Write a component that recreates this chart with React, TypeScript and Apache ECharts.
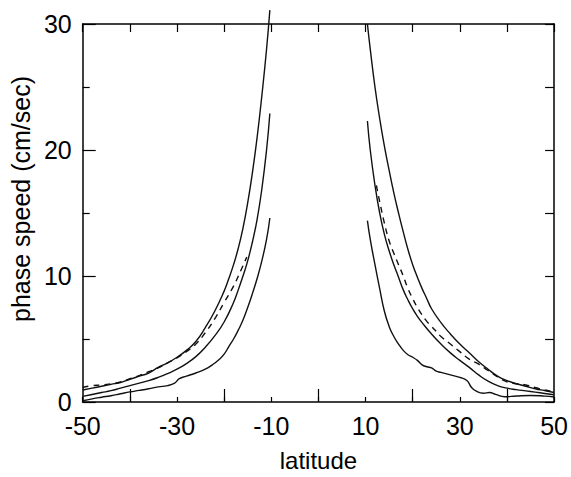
import React, { useEffect, useRef } from 'react';
import * as echarts from 'echarts';

// latitude (deg) vs phase speed (cm/sec)
const leftOuter: [number, number][] = [
  [-50, 0.95], [-48, 1.1], [-46, 1.25], [-44, 1.4], [-42, 1.55], [-40, 1.8], [-38, 2.05],
  [-36, 2.3], [-34, 2.75], [-32, 3.1], [-30, 3.55], [-28, 4.1], [-26, 4.8], [-24, 5.9],
  [-22, 7.2], [-20, 8.8], [-19, 9.8], [-18, 10.9], [-17, 12.2], [-16, 13.8], [-15, 15.8],
  [-14, 18.2], [-13, 21.0], [-12, 24.3], [-11, 28.0], [-10.3, 31.1],
];
const leftMiddle: [number, number][] = [
  [-50, 0.45], [-48, 0.6], [-46, 0.75], [-44, 0.9], [-42, 1.1], [-40, 1.3], [-38, 1.5],
  [-36, 1.7], [-34, 1.95], [-32, 2.25], [-30, 2.6], [-28, 3.05], [-26, 3.6], [-24, 4.35],
  [-22, 5.25], [-20, 6.35], [-18, 7.9], [-17, 8.9], [-16, 10.0], [-15, 11.2], [-14, 12.7],
  [-13, 14.5], [-12, 16.9], [-11, 20.0], [-10.3, 22.9],
];
const leftInner: [number, number][] = [
  [-50, 0.1], [-48, 0.25], [-46, 0.38], [-44, 0.5], [-42, 0.65], [-40, 0.8], [-38, 0.92],
  [-36, 1.05], [-34, 1.2], [-32, 1.3], [-30.5, 1.5], [-29.5, 1.85], [-28, 2.05], [-26, 2.3],
  [-24, 2.6], [-22.5, 2.95], [-21, 3.4], [-20, 3.8], [-19, 4.4], [-18, 5.0], [-17, 5.7],
  [-16, 6.5], [-15, 7.5], [-14, 8.6], [-13, 9.8], [-12, 11.2], [-11, 12.9], [-10.3, 14.6],
];
const leftDashed: [number, number][] = [
  [-50, 1.15], [-48, 1.3], [-46, 1.35], [-44, 1.45], [-42, 1.6], [-40, 1.85], [-38, 2.1],
  [-36, 2.4], [-34, 2.7], [-32, 3.1], [-30, 3.5], [-28, 4.0], [-26, 4.6], [-24, 5.5],
  [-22, 6.6], [-20, 7.9], [-18, 9.2], [-16.5, 10.4], [-15.2, 11.5],
];
const rightOuter: [number, number][] = [
  [10.4, 30.0], [11, 28.0], [12, 25.0], [13, 22.5], [14, 20.3], [15, 18.4], [16, 16.6],
  [17, 15.0], [18, 13.5], [19, 12.1], [20, 10.9], [21, 9.9], [22, 9.0], [23, 8.2], [24, 7.4],
  [26, 6.3], [28, 5.4], [30, 4.6], [32, 3.9], [34, 3.2], [36, 2.6], [38, 2.05], [40, 1.7],
  [42, 1.45], [44, 1.25], [46, 1.05], [48, 0.9], [50, 0.75],
];
const rightMiddle: [number, number][] = [
  [10.4, 22.3], [11, 20.0], [12, 17.2], [13, 15.0], [14, 13.3], [15, 12.0], [16, 10.9],
  [17, 9.9], [18, 8.9], [19, 8.1], [20, 7.4], [21, 6.8], [22, 6.3], [24, 5.4], [26, 4.6],
  [28, 3.9], [30, 3.3], [32, 2.75], [34, 2.15], [36, 1.65], [38, 1.3], [40, 1.1], [42, 0.98],
  [44, 0.88], [46, 0.78], [48, 0.68], [50, 0.58],
];
const rightInner: [number, number][] = [
  [10.4, 14.4], [11, 12.9], [12, 10.9], [13, 9.0], [14, 7.2], [15, 6.0], [16, 5.2], [17, 4.6],
  [18, 4.1], [19, 3.75], [20, 3.55], [21, 3.3], [22, 2.95], [23, 2.8], [24, 2.7], [25, 2.45],
  [26, 2.35], [28, 2.15], [30, 1.95], [31.5, 1.7], [32.5, 1.15], [33.5, 0.86], [35, 0.7],
  [36.3, 0.75], [37.6, 0.6], [39.5, 0.42], [42, 0.48], [45, 0.52], [48, 0.47], [50, 0.4],
];
const rightDashed: [number, number][] = [
  [12.3, 17.2], [13, 15.9], [14, 14.2], [15, 12.8], [16, 11.8], [17, 10.9], [18, 10.0],
  [19, 9.0], [20, 8.2], [21, 7.5], [22, 6.9], [23, 6.4], [24, 6.0], [25, 5.6], [26, 5.2],
  [28, 4.6], [30, 4.0], [32, 3.4], [34, 3.0], [36, 2.5], [38, 2.0], [40, 1.6], [42, 1.45],
  [44, 1.35], [46, 1.15], [48, 0.95], [50, 0.8],
];

const xTickLabels = ['-50', '-40', '-30', '-20', '-10', '0', '10', '20', '30', '40', '50'];

const FONT = "'Liberation Sans', Arial, Helvetica, sans-serif";

function line(data: [number, number][], dashed = false, clip = true) {
  return {
    type: 'line',
    xAxisIndex: 0,
    yAxisIndex: 0,
    data,
    showSymbol: false,
    symbol: 'none',
    smooth: 0.5,
    clip,
    silent: true,
    lineStyle: {
      color: '#111',
      width: 1.4,
      type: dashed ? [6, 5] : 'solid',
    },
  };
}

export default function App() {
  const ref = useRef<HTMLDivElement>(null);
  useEffect(() => {
    const chart = echarts.init(ref.current!, null, { renderer: 'svg' });
    const axisLine = { show: true, onZero: false, lineStyle: { color: '#000', width: 1.5 } };
    chart.setOption({
      animation: false,
      backgroundColor: '#fff',
      textStyle: { fontFamily: FONT },
      grid: { left: 76, right: 14, top: 24, bottom: 71 },
      xAxis: [
        {
          type: 'value', min: -50, max: 50, interval: 10, position: 'bottom',
          axisLine, splitLine: { show: false },
          axisTick: { show: true, inside: true, length: 5, lineStyle: { color: '#000', width: 1.2 } },
          axisLabel: { show: false },
        },
        {
          type: 'category', data: xTickLabels, boundaryGap: false, position: 'bottom',
          axisLine: { show: false, onZero: false }, splitLine: { show: false },
          axisTick: {
            show: true, inside: true, length: 13,
            interval: (i: number) => i % 2 === 1,
            lineStyle: { color: '#000', width: 1.2 },
          },
          axisLabel: {
            interval: (i: number) => i % 2 === 0,
            fontSize: 25, color: '#000', fontFamily: FONT, margin: 11,
          },
          name: 'latitude', nameLocation: 'middle', nameGap: 46,
          nameTextStyle: { fontSize: 24, color: '#000', fontFamily: FONT },
        },
        {
          type: 'value', min: -50, max: 50, interval: 10, position: 'top',
          axisLine, splitLine: { show: false },
          axisTick: { show: true, inside: true, length: 8, lineStyle: { color: '#000', width: 1.2 } },
          axisLabel: { show: false },
        },
      ],
      yAxis: [
        {
          type: 'value', min: 0, max: 30, interval: 10, position: 'left',
          axisLine, splitLine: { show: false },
          axisTick: { show: true, inside: true, length: 13, lineStyle: { color: '#000', width: 1.2 } },
          minorTick: { show: true, splitNumber: 2, length: 7, lineStyle: { color: '#000', width: 1.2 } },
          minorSplitLine: { show: false },
          axisLabel: { fontSize: 25, color: '#000', fontFamily: FONT, margin: 11 },
          name: 'phase speed (cm/sec)', nameLocation: 'middle', nameGap: 46, nameRotate: 90,
          nameTextStyle: { fontSize: 25, color: '#000', fontFamily: FONT, padding: [0, 0, 0, 28] },
        },
        {
          type: 'value', min: 0, max: 30, interval: 5, position: 'right',
          axisLine, splitLine: { show: false },
          axisTick: { show: true, inside: true, length: 9, lineStyle: { color: '#000', width: 1.2 } },
          axisLabel: { show: false },
        },
      ],
      series: [
        line(leftOuter, false, false),
        line(leftMiddle),
        line(leftInner),
        line(leftDashed, true),
        line(rightOuter, false, false),
        line(rightMiddle),
        line(rightInner),
        line(rightDashed, true),
      ],
    });
    return () => chart.dispose();
  }, []);
  return (
    <div
      ref={ref}
      style={{ position: 'absolute', left: 0, top: 0, width: 571, height: 477, background: '#fff' }}
    />
  );
}
